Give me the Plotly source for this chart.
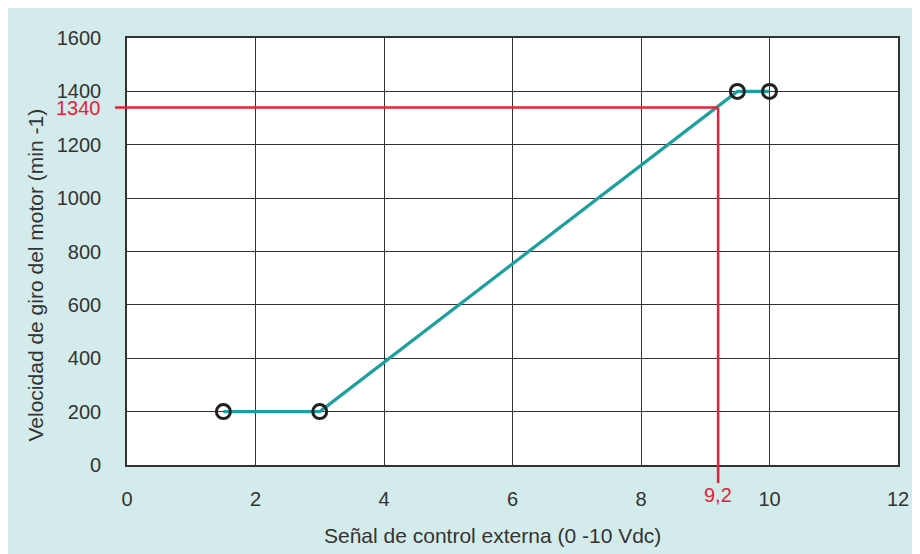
import plotly.graph_objects as go

x_vals = [1.5, 3, 9.5, 10]
y_vals = [200, 200, 1400, 1400]
marker_x = [1.5, 3, 9.5, 10]
marker_y = [200, 200, 1400, 1400]
ref_x = 9.2
ref_y = 1340
x_ticks = [0, 2, 4, 6, 8, 10, 12]
y_ticks = [0, 200, 400, 600, 800, 1000, 1200, 1400, 1600]
x_title = "Señal de control externa (0 -10 Vdc)"
y_title = "Velocidad de giro del motor (min -1)"

BG = "#d4ebeb"
TEAL = "#1aa0a0"
RED = "#e8213a"
DARK = "#333333"
FONT = "Liberation Sans, Arial, sans-serif"

fig = go.Figure()
fig.add_trace(go.Scatter(x=x_vals, y=y_vals, mode="lines",
                         line=dict(color=TEAL, width=3.2), hoverinfo="skip"))
fig.add_trace(go.Scatter(x=marker_x, y=marker_y, mode="markers",
                         marker=dict(symbol="circle-open", size=14, color="#222222",
                                     line=dict(width=3, color="#222222")), hoverinfo="skip"))

shapes = [
    dict(type="line", xref="paper", yref="y", x0=-0.0156, x1=ref_x / 12, y0=ref_y, y1=ref_y,
         line=dict(color=RED, width=2.5), layer="above"),
    dict(type="line", xref="x", yref="paper", x0=ref_x, x1=ref_x, y0=-0.042, y1=ref_y / 1600,
         line=dict(color=RED, width=2.5), layer="above"),
]

annotations = [
    dict(x=-0.031, xref="paper", y=ref_y, yref="y", text="1340", showarrow=False,
         xanchor="right", yanchor="middle", yshift=-1, font=dict(color=RED, size=20, family=FONT)),
    dict(x=ref_x, xref="x", y=(465 - 495) / 427, yref="paper", text="9,2", showarrow=False,
         xanchor="center", yanchor="middle", font=dict(color=RED, size=20, family=FONT)),
    dict(x=(492 - 127) / 771, xref="paper", y=(465 - 535) / 427, yref="paper", text=x_title,
         showarrow=False, xanchor="center", yanchor="middle",
         font=dict(color=DARK, size=21, family=FONT)),
    dict(x=(35 - 127) / 771, xref="paper", y=(465 - 275.5) / 427, yref="paper", text=y_title,
         showarrow=False, xanchor="center", yanchor="middle", textangle=-90,
         font=dict(color=DARK, size=21, family=FONT)),
]

fig.update_layout(
    width=920, height=554,
    margin=dict(l=119, r=30, t=30, b=97),
    paper_bgcolor=BG, plot_bgcolor="white",
    showlegend=False,
    font=dict(family=FONT, size=20, color=DARK),
    shapes=shapes, annotations=annotations,
    xaxis=dict(range=[0, 12], tickvals=x_ticks, ticktext=[str(v) for v in x_ticks],
               showgrid=True, gridcolor=DARK, gridwidth=1.4, zeroline=False,
               showline=True, linecolor=DARK, linewidth=1.6, mirror=True,
               ticks="", ticklabelstandoff=15),
    yaxis=dict(range=[0, 1600], tickvals=y_ticks, ticktext=[str(v) for v in y_ticks],
               showgrid=True, gridcolor=DARK, gridwidth=1.4, zeroline=False,
               showline=True, linecolor=DARK, linewidth=1.6, mirror=True,
               ticks="", ticklabelstandoff=20),
)

fig.write_html("out.html")
